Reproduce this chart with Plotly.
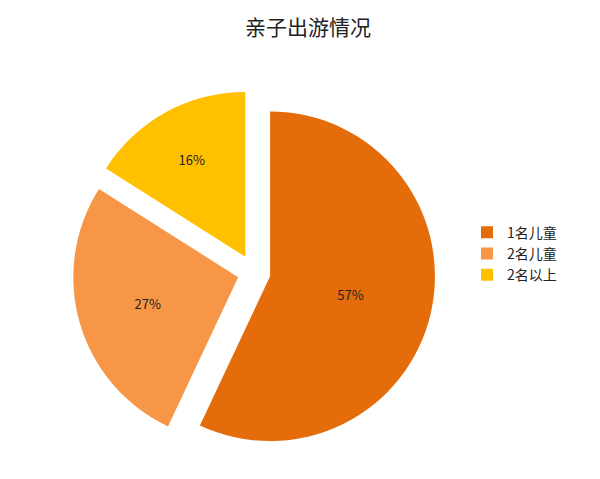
import plotly.graph_objects as go

labels = ['1名儿童', '2名儿童', '2名以上']
values = [57, 27, 16]
colors = ['#E46C0A', '#F79646', '#FFC000']
pulls = [0.1, 0.1, 0.11]

fig = go.Figure(go.Pie(
    labels=labels,
    values=values,
    sort=False,
    direction='clockwise',
    rotation=0,
    pull=pulls,
    marker=dict(colors=colors),
    textinfo='percent',
    textposition='inside',
    insidetextorientation='horizontal',
    texttemplate='%{percent:.0%}',
    textfont=dict(color='#222222', size=13),
    domain=dict(x=[0.105, 0.715], y=[0.06, 0.835]),
    hoverinfo='label+percent',
))

fig.update_layout(
    title=dict(text='亲子出游情况', x=0.5, xanchor='center', y=0.96, yanchor='middle',
               font=dict(size=21, color='#222222')),
    font=dict(family='Noto Sans CJK SC, sans-serif', color='#222222'),
    width=600, height=479,
    margin=dict(l=0, r=0, t=0, b=0),
    paper_bgcolor='white',
    legend=dict(x=0.765, y=0.487, xanchor='left', yanchor='middle',
                font=dict(size=14, color='#222222'), itemwidth=30),
)

fig.write_html('out.html')
